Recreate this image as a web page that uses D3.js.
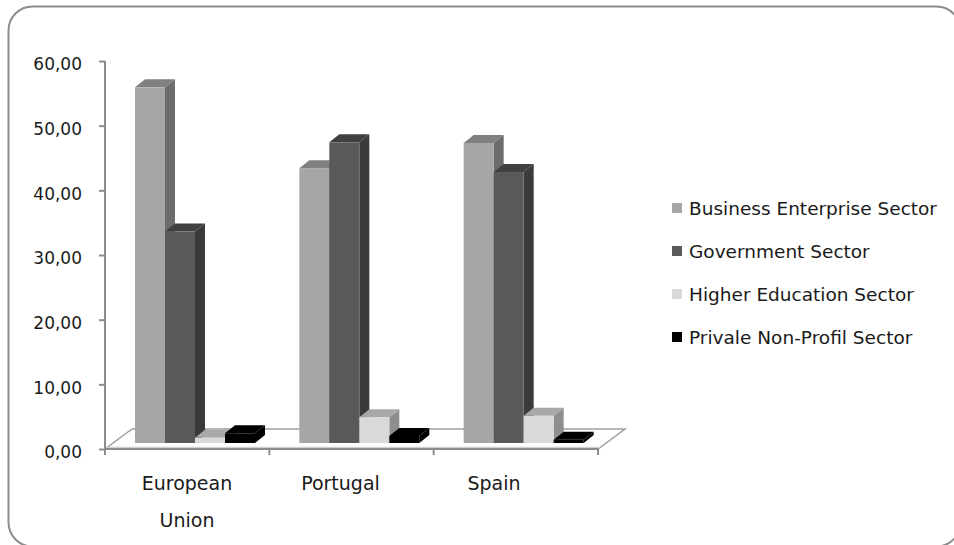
<!DOCTYPE html>
<html>
<head>
<meta charset="utf-8">
<script src="https://cdn.jsdelivr.net/npm/d3@7/dist/d3.min.js"></script>
<style>
  html, body { margin: 0; padding: 0; background: #ffffff; }
  svg { display: block; }
  text { font-family: "DejaVu Sans", sans-serif; fill: #1a1a1a; }
</style>
</head>
<body>
<svg id="chart" width="954" height="545"></svg>
<script>
// ---- data ----
const categories = ["European Union", "Portugal", "Spain"];
const categoryLines = [["European", "Union"], ["Portugal"], ["Spain"]];
const seriesNames = ["Business Enterprise Sector", "Government Sector", "Higher Education Sector", "Private Non-Profit Sector"];
const business   = [55.0, 42.5, 46.4];
const government = [32.7, 46.5, 41.9];
const higherEdu  = [0.8, 4.0, 4.2];
const privateNP  = [1.5, 1.1, 0.5];
const yTicks = [0, 10, 20, 30, 40, 50, 60];
const legendLabels = ["Business Enterprise Sector", "Government Sector", "Higher Education Sector", "Privale Non-Profil Sector"];

const seriesValues = [business, government, higherEdu, privateNP];
const palette = [
  {front: "#a6a6a6", top: "#808080", side: "#6c6c6c"},
  {front: "#595959", top: "#404040", side: "#3a3a3a"},
  {front: "#d9d9d9", top: "#a8a8a8", side: "#8e8e8e"},
  {front: "#000000", top: "#000000", side: "#000000"}
];

const svg = d3.select("#chart");

// chart border
svg.append("rect")
  .attr("x", 8.5).attr("y", 6.5).attr("width", 952).attr("height", 540)
  .attr("rx", 24).attr("ry", 24)
  .attr("fill", "#ffffff").attr("stroke", "#8c8c8c").attr("stroke-width", 2);

// geometry
const left = 105, right = 598, base = 449, topY = 61;
const depthX = 27, depthY = -20;     // floor depth
const barDX = 10, barDY = -8;        // bar depth
const offX = 8, offY = -6;           // bar front plane offset

const y = d3.scaleLinear().domain([0, 60]).range([base, topY]);
const x0 = d3.scaleBand().domain(categories).range([left, right]);
const x1 = d3.scaleBand().domain(seriesNames).range([22, 142]);
const xLabel = d3.scalePoint().domain(categories).range([187, 494]);

// floor
const floorPts = [[left, base], [right, base], [right + depthX, base + depthY], [left + depthX, base + depthY]];
svg.append("polygon")
  .attr("points", floorPts.map(p => p.join(",")).join(" "))
  .attr("fill", "#ffffff").attr("stroke", "#a0a0a0").attr("stroke-width", 1.5);
svg.append("line")
  .attr("x1", left).attr("x2", right).attr("y1", base - 1.5).attr("y2", base - 1.5)
  .attr("stroke", "#d0d0d0").attr("stroke-width", 1.5);
svg.append("line")
  .attr("x1", left).attr("x2", right).attr("y1", base).attr("y2", base)
  .attr("stroke", "#8c8c8c").attr("stroke-width", 2);

// category ticks on the floor front edge
const catEdges = categories.map(c => x0(c)).concat([right]);
svg.selectAll("line.ctick").data(catEdges).enter().append("line")
  .attr("class", "ctick")
  .attr("x1", d => d).attr("x2", d => d)
  .attr("y1", base).attr("y2", base + 6)
  .attr("stroke", "#8c8c8c").attr("stroke-width", 2);

// y axis
const yAxis = d3.axisLeft(y).tickValues(yTicks).tickSize(6).tickPadding(17)
  .tickFormat(d => d3.format(".2f")(d).replace(".", ","));
const gY = svg.append("g").attr("transform", `translate(${left},0)`).call(yAxis);
gY.select(".domain").attr("stroke", "#8c8c8c").attr("stroke-width", 2)
  .attr("d", `M0,${topY}V${base + 6}`);
gY.selectAll(".tick line").attr("stroke", "#8c8c8c").attr("stroke-width", 2);
gY.selectAll(".tick text")
  .attr("dy", "0.52em")
  .style("font-size", "17px").style("font-family", '"DejaVu Sans", sans-serif').attr("fill", "#1a1a1a");

// bars
const barData = [];
categories.forEach((c, ci) => {
  seriesNames.forEach((s, si) => {
    barData.push({cat: c, ci, s, si, v: seriesValues[si][ci]});
  });
});
const bw = x1.bandwidth();
const bars = svg.append("g").selectAll("g.bar").data(barData).enter().append("g").attr("class", "bar");
bars.each(function(d) {
  const g = d3.select(this);
  const xl = x0(d.cat) + x1(d.s) + offX;
  const xr = xl + bw;
  const yb = base + offY;
  const yt = y(d.v) + offY;
  const col = palette[d.si];
  g.append("polygon")
    .attr("points", [[xr, yb], [xr + barDX, yb + barDY], [xr + barDX, yt + barDY], [xr, yt]].map(p => p.join(",")).join(" "))
    .attr("fill", col.side);
  g.append("polygon")
    .attr("points", [[xl, yt], [xr, yt], [xr + barDX, yt + barDY], [xl + barDX, yt + barDY]].map(p => p.join(",")).join(" "))
    .attr("fill", col.top);
  g.append("rect")
    .attr("x", xl).attr("y", yt).attr("width", bw).attr("height", yb - yt)
    .attr("fill", col.front);
});

// category labels
const catG = svg.append("g");
categories.forEach((c, ci) => {
  const cx = xLabel(c);
  const t = catG.append("text")
    .attr("text-anchor", "middle")
    .attr("x", cx)
    .attr("y", 490)
    .style("font-size", "19px");
  categoryLines[ci].forEach((ln, li) => {
    t.append("tspan").attr("x", cx).attr("dy", li === 0 ? 0 : 37).text(ln);
  });
});

// legend
const legend = svg.append("g").attr("transform", "translate(672,208)");
legendLabels.forEach((lab, i) => {
  const g = legend.append("g").attr("transform", `translate(0,${i * 43})`);
  g.append("rect").attr("x", 0).attr("y", -5).attr("width", 10).attr("height", 10).attr("fill", palette[i].front);
  g.append("text").attr("x", 17).attr("y", 6.5).style("font-size", "18.5px").text(lab);
});
</script>
</body>
</html>
